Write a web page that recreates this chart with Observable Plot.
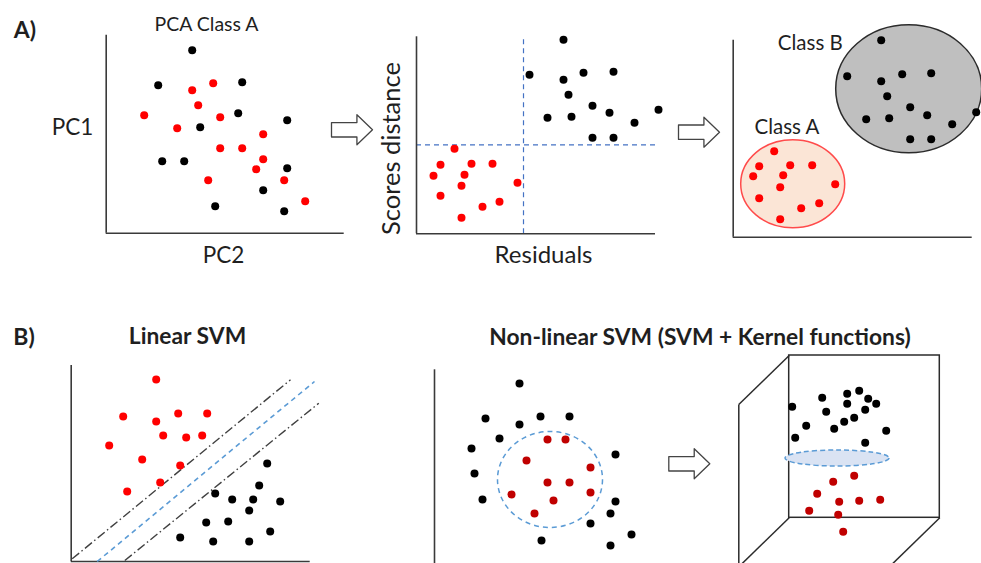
<!DOCTYPE html>
<html>
<head>
<meta charset="utf-8">
<script src="https://cdn.jsdelivr.net/npm/d3@7"></script>
<script src="https://cdn.jsdelivr.net/npm/@observablehq/plot@0.6"></script>
<style>
  body { margin: 0; background: #fff; }
  #fig { position: relative; width: 981px; height: 563px; overflow: hidden; font-family: Lato, sans-serif; color: #1f1f1f; }
  .lbl { position: absolute; white-space: nowrap; transform: translate(-50%, -50%); line-height: 1; }
  #fig svg { position: absolute; background: transparent; }
</style>
</head>
<body>
<div id="fig"></div>
<script>
// ---------- A) PCA class A: scores on PC2 (x) vs PC1 (y) ----------
const pcaBlack = [[86,183],[52,148],[136,151],[132,120],[94,106],[181,113],[56,72],[78,72],[181,65],[157,43],[109,27],[178,22]];
const pcaRed = [[38,118],[86,143],[107,150],[92,128],[114,116],[71,105],[157,99],[114,85],[136,85],[157,74],[150,64],[102,53],[178,53],[199,32]];

// ---------- A) residuals (x) vs scores distance (y) ----------
const distBlack = [[147,194],[113,159],[147,154],[167,161],[197,162],[152,139],[176,128],[193,121],[242,124],[131,116],[155,117],[218,111],[176,96],[197,96]];
const distRed = [[38,85],[24,69],[55,70],[76,70],[17,58],[48,59],[45,48],[101,51],[24,38],[83,32],[66,27],[45,16]];
const residualLimit = 107;
const distanceLimit = 89;

// ---------- A) resulting classes ----------
const classBPoints = [[148,197],[114,161],[148,156],[169,163],[198,164],[154,141],[177,130],[194,122],[243,125],[133,118],[156,119],[219,113],[177,98],[198,98]];
const classAPoints = [[41,86],[26,71],[57,72],[79,72],[20,61],[50,62],[47,50],[102,53],[26,39],[86,34],[68,29],[47,18]];
const classBRegion = [{cx: 176, cy: 148, rx: 73, ry: 64}];
const classARegion = [{cx: 60, cy: 53, rx: 52, ry: 44}];
const classNames = ["Class B", "Class A"];

// ---------- B) linear SVM ----------
const linRed = [[85,182],[52,145],[85,140],[107,148],[136,148],[92,126],[115,124],[131,126],[38,116],[71,102],[109,96],[89,79],[56,70]];
const linBlack = [[196,98],[188,76],[144,68],[161,62],[182,62],[209,60],[178,51],[135,39],[157,40],[199,30],[109,24],[142,20],[178,20]];
const svmMargins = [{x1: 1, y1: 2.7, x2: 219.3, y2: 181.7}, {x1: 53.6, y1: 1, x2: 247.6, y2: 158.3}];
const svmBoundary = [{x1: 26, y1: 0, x2: 243.3, y2: 180}];

// ---------- B) non-linear SVM, input space ----------
const ringBlack = [[85,180],[51,145],[85,139],[106,147],[135,147],[65,125],[37,115],[181,109],[40,90],[48,64],[181,62],[176,50],[156,40],[197,29],[107,23],[176,18]];
const ringRed = [[113,124],[131,124],[92,103],[156,96],[113,81],[135,81],[156,71],[77,69],[119,63],[100,50]];
const kernelBoundary = [{cx: 116, cy: 83.5, rx: 52.5, ry: 48}];

// ---------- B) non-linear SVM, feature space ----------
const featBlack = [[3,111],[33,120],[58,124],[70,127],[79,119],[87,114],[58,114],[37,106],[76,108],[65,100],[55,96],[17,92],[45,89],[97,87],[6,80],[76,75]];
const featRed = [[65,42],[44,36],[28,24],[50,16],[70,17],[91,18],[20,7],[49,3],[54,-14]];
const hyperplane = [{cx: 48.3, cy: 59.3, rx: 52, ry: 8}];
const backWall = [{x1: 0, y1: 0, x2: 150.6, y2: 162.3}];
const boxEdges = [
  {x1: 0, y1: 162.3, x2: -50.4, y2: 113.3},
  {x1: 0, y1: 0, x2: -50.4, y2: -49},
  {x1: 150.6, y1: 0, x2: 100.2, y2: -49},
  {x1: -50.4, y1: 113.3, x2: -50.4, y2: -49}
];

// ---------- shared drawing helpers ----------
const fig = document.getElementById("fig");
const AXIS = "#3a3a3a";
const DOT_R = 4;

// one panel = one plot whose data units are anchored at the axis corner (ox, oy)
function panel({left, top, width, height, ox, oy, marks}) {
  const svg = Plot.plot({
    width, height, margin: 0,
    x: {axis: null, domain: [left - ox, left + width - ox], range: [0, width]},
    y: {axis: null, domain: [oy - top - height, oy - top], range: [height, 0]},
    style: {background: "transparent", fontFamily: "Lato, sans-serif", overflow: "visible"},
    marks
  });
  svg.style.left = left + "px";
  svg.style.top = top + "px";
  fig.appendChild(svg);
}

const pts = (data, fill) => Plot.dot(data, {x: d => d[0], y: d => d[1], r: DOT_R, fill, stroke: "none"});

function axes(xLen, yLen) {
  return [
    Plot.ruleX([0], {y1: 0, y2: yLen, stroke: AXIS, strokeWidth: 1.6}),
    Plot.ruleY([0], {x1: 0, x2: xLen, stroke: AXIS, strokeWidth: 1.6})
  ];
}

// ellipses in data units, drawn through the plot's own x/y scales
function ellipses(data, {fill = "none", stroke, strokeWidth = 1.5, dash = null}) {
  return (index, scales) => {
    const g = d3.create("svg:g");
    for (const e of data) {
      const cx = scales.x(e.cx), cy = scales.y(e.cy);
      g.append("ellipse")
        .attr("cx", cx).attr("cy", cy)
        .attr("rx", Math.abs(scales.x(e.cx + e.rx) - cx))
        .attr("ry", Math.abs(scales.y(e.cy + e.ry) - cy))
        .attr("fill", fill).attr("stroke", stroke)
        .attr("stroke-width", strokeWidth)
        .attr("stroke-dasharray", dash);
    }
    return g.node();
  };
}

// outlined block arrow pointing right; (x, y) = tail centre
const ARROW_LEN = 41, ARROW_H = 30;
const arrowOutline = [[0,-0.24],[0.62,-0.24],[0.62,-0.5],[1,0],[0.62,0.5],[0.62,0.24],[0,0.24],[0,-0.24]];
function blockArrows(arrows) {
  const path = arrows.flatMap((a, i) => arrowOutline.map(([u, v]) => ({i, x: a.x + u * ARROW_LEN, y: a.y + v * ARROW_H})));
  return Plot.line(path, {x: "x", y: "y", z: "i", fill: "white", stroke: "#444", strokeWidth: 1.3, curve: "linear"});
}

const label = (text, x, y, opts = {}) =>
  Plot.text([text], {x: () => x, y: () => y, text: d => d, fill: "#1f1f1f", stroke: "none", lineAnchor: "middle", ...opts});

function htmlLabel(text, cx, cy, size, weight = 400) {
  const d = document.createElement("div");
  d.className = "lbl";
  d.textContent = text;
  Object.assign(d.style, {left: cx + "px", top: cy + "px", fontSize: size + "px", fontWeight: weight});
  fig.appendChild(d);
}

// ---------- A) ----------
panel({
  left: 40, top: 10, width: 310, height: 265, ox: 105.7, oy: 232.7,
  marks: [
    ...axes(238, 198),
    pts(pcaBlack, "black"),
    pts(pcaRed, "#ff0000"),
    label("PCA Class A", 100.3, 208.7, {fontSize: 19.5}),
    label("PC1", -33.7, 105.7, {fontSize: 22.5}),
    label("PC2", 117.3, -22.3, {fontSize: 22.5})
  ]
});

panel({
  left: 325, top: 25, width: 340, height: 250, ox: 416, oy: 233.3,
  marks: [
    blockArrows([{x: -85, y: 104}]),
    Plot.ruleX([residualLimit], {y1: 0, y2: 197, stroke: "#4472c4", strokeWidth: 1.2, strokeDasharray: "5,4"}),
    Plot.ruleY([distanceLimit], {x1: 0, x2: 239, stroke: "#4472c4", strokeWidth: 1.2, strokeDasharray: "5,4"}),
    ...axes(239, 197),
    pts(distBlack, "black"),
    pts(distRed, "#ff0000"),
    label("Scores distance", -24.3, 85.3, {fontSize: 25.5, rotate: -90}),
    label("Residuals", 127, -21.7, {fontSize: 24})
  ]
});

panel({
  left: 672, top: 10, width: 309, height: 240, ox: 732.7, oy: 236.7,
  marks: [
    blockArrows([{x: -54.7, y: 105}]),
    ...axes(239, 197),
    ellipses(classBRegion, {fill: "#bfbfbf", stroke: "#2b2b2b", strokeWidth: 1.5}),
    ellipses(classARegion, {fill: "#fbe5d6", stroke: "#ff4b4b", strokeWidth: 1.5}),
    pts(classBPoints, "black"),
    pts(classAPoints, "#ff0000"),
    label(classNames[0], 44.6, 193.4, {fontSize: 20.5, textAnchor: "start"}),
    label(classNames[1], 21.3, 109.4, {fontSize: 20.5, textAnchor: "start"})
  ]
});

// ---------- B) ----------
panel({
  left: 60, top: 355, width: 270, height: 208, ox: 70.7, oy: 561,
  marks: [
    ...axes(239, 196),
    Plot.link(svmMargins, {x1: "x1", y1: "y1", x2: "x2", y2: "y2", stroke: "#404040", strokeWidth: 1.4, strokeDasharray: "9,3,1.5,3"}),
    Plot.link(svmBoundary, {x1: "x1", y1: "y1", x2: "x2", y2: "y2", stroke: "#5b9bd5", strokeWidth: 1.6, strokeDasharray: "5,4"}),
    pts(linRed, "#ff0000"),
    pts(linBlack, "black")
  ]
});

panel({
  left: 425, top: 360, width: 300, height: 203, ox: 434, oy: 563,
  marks: [
    Plot.ruleX([0], {y1: -5, y2: 193.7, stroke: AXIS, strokeWidth: 1.6}),
    ellipses(kernelBoundary, {stroke: "#5b9bd5", strokeWidth: 1.5, dash: "5,4"}),
    pts(ringBlack, "black"),
    pts(ringRed, "#c00000"),
    blockArrows([{x: 234.3, y: 99.7}])
  ]
});

panel({
  left: 730, top: 345, width: 251, height: 218, ox: 788.7, oy: 517.3,
  marks: [
    Plot.rect(backWall, {x1: "x1", y1: "y1", x2: "x2", y2: "y2", fill: "none", stroke: "#2b2b2b", strokeWidth: 1.5}),
    Plot.link(boxEdges, {x1: "x1", y1: "y1", x2: "x2", y2: "y2", stroke: "#2b2b2b", strokeWidth: 1.5}),
    pts(featBlack, "black"),
    ellipses(hyperplane, {fill: "#dae3f3", stroke: "#5b9bd5", strokeWidth: 1.5, dash: "5,3"}),
    pts(featRed, "#c00000")
  ]
});

// ---------- panel letters and titles ----------
htmlLabel("A)", 25, 29, 23, 700);
htmlLabel("B)", 24, 336, 23, 700);
htmlLabel("Linear SVM", 187.5, 335, 22.8, 700);
htmlLabel("Non-linear SVM (SVM + Kernel functions)", 700, 336, 22.8, 700);
</script>
</body>
</html>
